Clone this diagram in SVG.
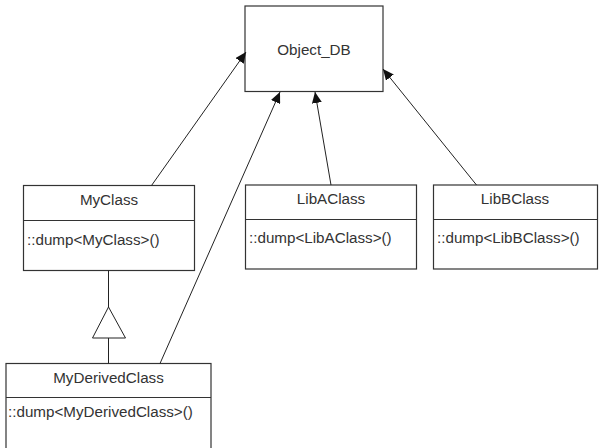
<svg xmlns="http://www.w3.org/2000/svg" width="600" height="448" viewBox="0 0 600 448">
<defs>
<marker id="arr" markerUnits="userSpaceOnUse" markerWidth="12" markerHeight="10" refX="11" refY="5" orient="auto">
<path d="M0,0 L11,5 L0,10 Z" fill="#111"/>
</marker>
<style>
.box{fill:#fff;stroke:#333;stroke-width:1.2}
.t{font-family:"Liberation Sans",Arial,sans-serif;font-size:15.2px;fill:#333}
.c{text-anchor:middle}
.ln{stroke:#222;stroke-width:1;fill:none}
</style>
</defs>
<rect width="600" height="448" fill="#fff"/>
<g id="Object_DB">
<rect class="box" x="245" y="6" width="138" height="85.5"/>
<text class="t c" x="314" y="55">Object_DB</text>
</g>
<g id="MyClass">
<rect class="box" x="23.5" y="185.5" width="171" height="85"/>
<line class="box" x1="23.5" y1="220.5" x2="194.5" y2="220.5"/>
<text class="t c" x="109" y="205">MyClass</text>
<text class="t" x="27" y="245">::dump&lt;MyClass&gt;()</text>
</g>
<g id="LibAClass">
<rect class="box" x="245.5" y="185" width="171" height="84"/>
<line class="box" x1="245.5" y1="219.5" x2="416.5" y2="219.5"/>
<text class="t c" x="331" y="204">LibAClass</text>
<text class="t" x="249" y="243">::dump&lt;LibAClass&gt;()</text>
</g>
<g id="LibBClass">
<rect class="box" x="433.5" y="185" width="164" height="84"/>
<line class="box" x1="433.5" y1="219.5" x2="597.5" y2="219.5"/>
<text class="t c" x="515" y="204">LibBClass</text>
<text class="t" x="437" y="243">::dump&lt;LibBClass&gt;()</text>
</g>
<g id="MyDerivedClass">
<rect class="box" x="6" y="363.5" width="205" height="90"/>
<line class="box" x1="6" y1="397.5" x2="211" y2="397.5"/>
<text class="t c" x="108.5" y="383">MyDerivedClass</text>
<text class="t" x="8" y="417">::dump&lt;MyDerivedClass&gt;()</text>
</g>
<g id="connectors">
<line class="ln" x1="151.5" y1="185.5" x2="246" y2="52" marker-end="url(#arr)"/>
<line class="ln" x1="160" y1="363.5" x2="280" y2="92" marker-end="url(#arr)"/>
<line class="ln" x1="331" y1="185" x2="315" y2="92" marker-end="url(#arr)"/>
<line class="ln" x1="476.5" y1="185" x2="383" y2="69" marker-end="url(#arr)"/>
<line class="ln" x1="108.5" y1="270.5" x2="108.5" y2="307"/>
<polygon class="ln" points="108.5,307 125.5,338 92.5,338" style="fill:#fff"/>
<line class="ln" x1="108.5" y1="338" x2="108.5" y2="363.5"/>
</g>
</svg>
